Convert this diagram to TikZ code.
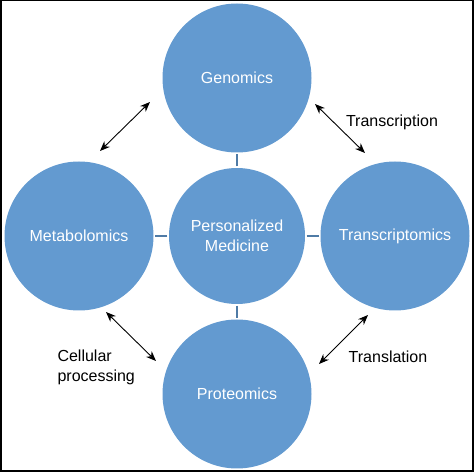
\documentclass[tikz,border=0pt]{standalone}
\usepackage{fontspec}
\setmainfont{Liberation Sans}
\usepackage{tikz}
\usetikzlibrary{shapes,arrows,arrows.meta,positioning}
\definecolor{omicblue}{RGB}{99,154,208}
\tikzstyle{omic} = [circle, fill=omicblue, text=white, minimum size=149pt, inner sep=0pt, align=center]
\tikzstyle{link} = [-, draw=omicblue!80!black, line width=1.5pt, shorten >=1.5pt, shorten <=1.5pt]
\tikzstyle{flow} = [<->, line width=0.9pt]

\begin{document}
\begin{tikzpicture}[x=1pt,y=1pt,>={Stealth[length=10pt,width=8pt]},node distance=158pt,font=\fontsize{16}{20}\selectfont]
\useasboundingbox (0,0) rectangle (475,472);
\draw[line width=1.5pt] (0.75,1) rectangle (472.75,471.25);

\node[omic, minimum size=136pt] (pm) at (237,236) {Personalized\\Medicine};
\node[omic, above of = pm] (gen) {Genomics};
\node[omic, left of = pm] (met) {Metabolomics};
\node[omic, right of = pm] (tra) {Transcriptomics};
\node[omic, below of = pm] (pro) {Proteomics};

% arrow ends
\coordinate (ul1) at (100,321);
\coordinate (ul2) at (150,370);
\coordinate (ur1) at (315,368);
\coordinate (ur2) at (365,319);
\coordinate (ll1) at (106,160);
\coordinate (ll2) at (156,111);
\coordinate (lr1) at (368,157);
\coordinate (lr2) at (319,108);

\node (tscr) at (392,350) {Transcription};
\node (tsl) at (388,115) {Translation};
\node[anchor=west, align=left] (cell) at (54,105) {Cellular\\processing};

\path
(pm) edge [link] (gen)
(pm) edge [link] (met)
(pm) edge [link] (tra)
(pm) edge [link] (pro)
(ul1) edge [flow] (ul2)
(ur1) edge [flow] (ur2)
(ll1) edge [flow] (ll2)
(lr1) edge [flow] (lr2);
\end{tikzpicture}
\end{document}
